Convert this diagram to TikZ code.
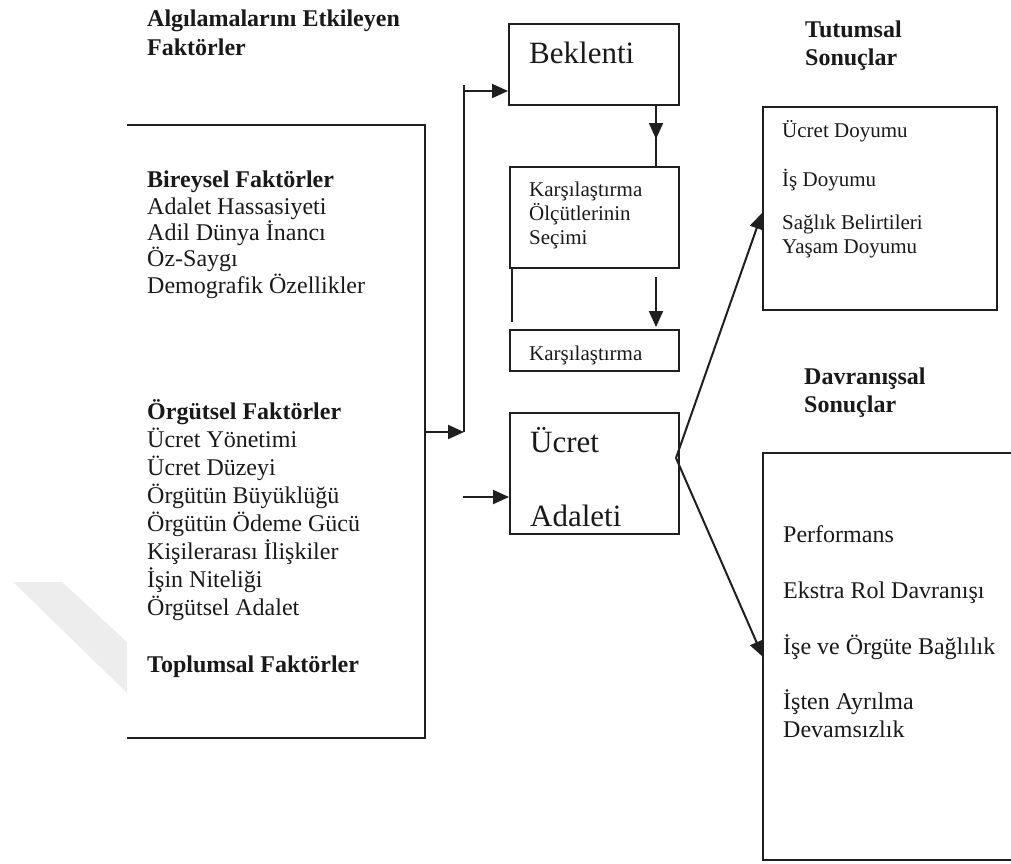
\documentclass[tikz,border=0pt]{standalone}
\usepackage{fontspec}
\setmainfont{Liberation Serif}
\usetikzlibrary{arrows.meta,decorations.markings,calc}
\begin{document}
\begin{tikzpicture}[x=1pt,y=-1pt,
  box/.style={draw=black!88,line width=2pt,inner sep=0,anchor=north west},
  txt/.style={inner sep=0,anchor=base west,align=left,text=black!90},
  fbig/.style={font=\fontsize{31}{74}\selectfont},
  fmid/.style={font=\fontsize{24}{28}\selectfont},
  fsmall/.style={font=\fontsize{21}{24}\selectfont},
  head/.style={font=\fontsize{24}{28}\selectfont\bfseries},
  arr/.style={-{Triangle[length=16pt,width=14pt]},line width=2pt,draw=black!88},
  ln/.style={line width=2pt,draw=black!88},
  midarr/.style={postaction={decorate},decoration={markings,
     mark=at position 0.55 with {\arrow{Triangle[length=16pt,width=14pt]}}}}
]
\useasboundingbox (0,0) rectangle (1011,863);
% watermark
\fill[black!7] (13,582) -- (62,582) -- (127,642) -- (127,693) -- cycle;

% left box (open on the left)
\node[inner sep=0,anchor=north west,minimum width=298pt,minimum height=613pt] (fac) at (127,125) {};
\draw[ln] (fac.north west) -- (fac.north east) -- (fac.south east) -- (fac.south west);

\node[txt,font=\fontsize{24}{29}\selectfont\bfseries] (title) at (147,55) {Algılamalarını Etkileyen\\Faktörler};

\node[txt,font=\fontsize{24}{26.3}\selectfont] (bir) at (147,293)
  {\textbf{Bireysel Faktörler}\\Adalet Hassasiyeti\\Adil Dünya İnancı\\Öz-Saygı\\Demografik Özellikler};
\node[txt,font=\fontsize{24}{27.9}\selectfont] (org) at (147,615)
  {\textbf{Örgütsel Faktörler}\\Ücret Yönetimi\\Ücret Düzeyi\\Örgütün Büyüklüğü\\Örgütün Ödeme Gücü\\Kişilerarası İlişkiler\\İşin Niteliği\\Örgütsel Adalet};
\node[txt,head] (top) at (147,672) {Toplumsal Faktörler};

% middle boxes
\node[box,minimum width=170pt,minimum height=81pt] (bek) at (508,23) {};
\node[txt,fbig] (bekt) at (529,63) {Beklenti};

\node[box,minimum width=169pt,minimum height=101pt] (kos) at (509,166) {};
\node[txt,fsmall] (kost) at (529,244) {Karşılaştırma\\Ölçütlerinin\\Seçimi};

\node[box,minimum width=169pt,minimum height=41pt] (kar) at (509,329) {};
\node[txt,fsmall] (kart) at (529,360) {Karşılaştırma};

\node[box,minimum width=169pt,minimum height=121pt] (ua) at (509,412) {};
\node[txt,fbig] (uat) at (530,526) {Ücret\\Adaleti};

% right side
\node[txt,head] (tuth) at (805,65) {Tutumsal\\Sonuçlar};
\node[box,minimum width=234pt,minimum height=203pt] (tut) at (762,106) {};
\node[txt,fsmall] (t1) at (782,137) {Ücret Doyumu};
\node[txt,fsmall] (t2) at (782,186) {İş Doyumu};
\node[txt,fsmall] (t3) at (782,253) {Sağlık Belirtileri\\Yaşam Doyumu};

\node[txt,head] (davh) at (804,412) {Davranışsal\\Sonuçlar};
\node[inner sep=0,anchor=north west,minimum width=260pt,minimum height=407pt] (dav) at (763,453) {};
\draw[ln] (dav.north east) -- (dav.north west) -- (dav.south west) -- (dav.south east);
\node[txt,fmid] (d1) at (783,542) {Performans};
\node[txt,fmid] (d2) at (783,598) {Ekstra Rol Davranışı};
\node[txt,fmid] (d3) at (783,654) {İşe ve Örgüte Bağlılık};
\node[txt,fmid] (d4) at (783,737) {İşten Ayrılma\\Devamsızlık};

% connectors
\coordinate (j1) at (464,432);
\coordinate (j2) at (464,85);
\coordinate (j3) at (464,91);
\draw[arr] (fac.east |- j1) -- (j1);
\draw[ln] (j1) -- (j2);
\draw[arr] (j3) -- (bek.west |- j3);

\coordinate (bx) at (656,0);
\draw[ln,midarr] (bek.south -| bx) -- (kos.north -| bx);

\coordinate (a3) at (656,277);
\draw[arr,shorten >=2pt] (a3) -- (kar.north -| a3);
\coordinate (l3) at (512,322);
\draw[ln] (kos.south -| l3) -- (l3);

\coordinate (a4) at (463,497);
\draw[arr] (a4) -- (ua.west |- a4);

\coordinate (v) at (676,458);
\coordinate (tt) at (762,213);
\coordinate (dt) at (762,657);
\draw[arr] (v) -- (tut.west |- tt);
\draw[arr] (v) -- (dav.west |- dt);
\end{tikzpicture}
\end{document}
